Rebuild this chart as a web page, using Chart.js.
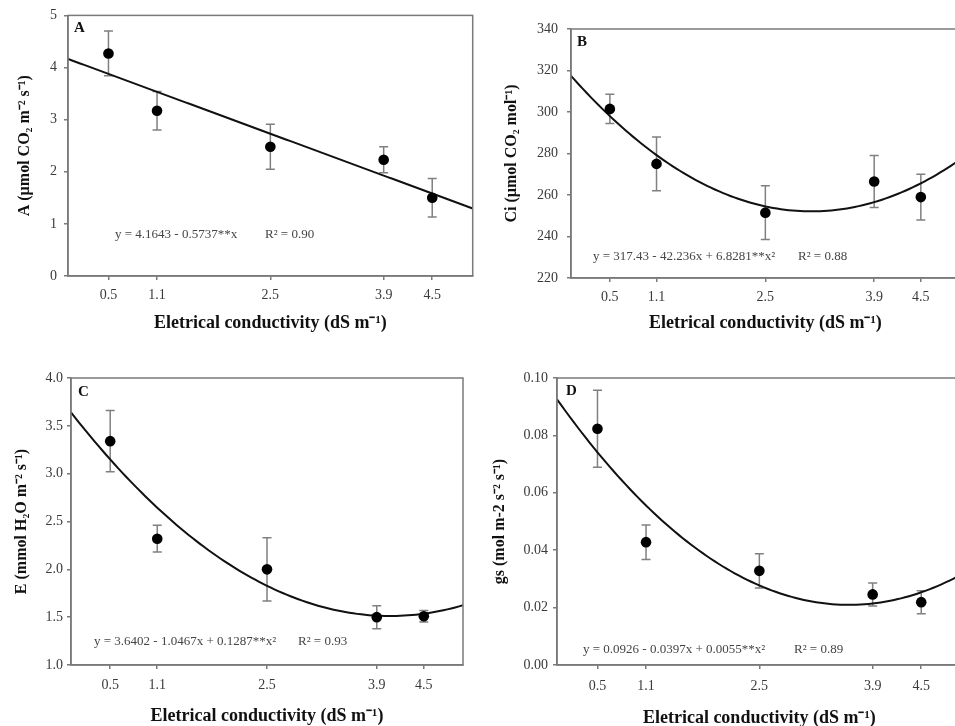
<!DOCTYPE html>
<html>
<head>
<meta charset="utf-8">
<title>Gas exchange vs electrical conductivity</title>
<script src="https://cdn.jsdelivr.net/npm/chart.js@4.4.1/dist/chart.umd.min.js"></script>
<style>
  html, body { margin: 0; padding: 0; background: #fff; width: 955px; height: 726px; overflow: hidden; }
  canvas { position: absolute; }
</style>
</head>
<body>
<canvas id="panelA" width="478" height="363" style="left:0;top:0"></canvas>
<canvas id="panelB" width="487" height="363" style="left:478px;top:0"></canvas>
<canvas id="panelC" width="478" height="363" style="left:0;top:363px"></canvas>
<canvas id="panelD" width="489" height="363" style="left:478px;top:363px"></canvas>
<script>
// electrical conductivity levels (dS m-1)
const ecLevels = [0.5, 1.1, 2.5, 3.9, 4.5];
const ecTickLabels = ['0.5', '1.1', '2.5', '3.9', '4.5'];

// A - net photosynthesis
const photoMean = [4.27, 3.17, 2.48, 2.23, 1.50];
const photoErr = [0.43, 0.37, 0.43, 0.25, 0.37];
const photoFit = [4.1643, -0.5737];

// B - internal CO2 concentration
const ciMean = [301.5, 275, 251.5, 266.5, 259];
const ciErr = [7, 13, 13, 12.5, 11];
const ciFit = [317.43, -42.236, 6.8281];

// C - transpiration
const transpMean = [3.34, 2.32, 2.00, 1.50, 1.51];
const transpErr = [0.32, 0.14, 0.33, 0.12, 0.06];
const transpFit = [3.6402, -1.0467, 0.1287];

// D - stomatal conductance
const gsMean = [0.0823, 0.0428, 0.0328, 0.0246, 0.0219];
const gsErr = [0.0134, 0.006, 0.006, 0.004, 0.004];
const gsFit = [0.0926, -0.0397, 0.0055];

const serif = "'Liberation Serif', 'Times New Roman', serif";
const axisGray = '#7a7a7a';
Chart.defaults.font.family = serif;

// points along the printed regression equation
function fitCurve(coef) {
  const pts = [];
  for (let i = 0; i <= 100; i++) {
    const x = i * 0.05;
    let y = 0;
    coef.forEach((c, k) => { y += c * Math.pow(x, k); });
    pts.push({ x: x, y: y });
  }
  return pts;
}

const errorBars = {
  id: 'errorBars',
  beforeDatasetsDraw(chart) {
    const ds = chart.data.datasets[0];
    if (!ds.errors) return;
    const { ctx, scales: { x, y } } = chart;
    ctx.save();
    ctx.strokeStyle = '#808080';
    ctx.lineWidth = 1.5;
    ds.data.forEach((p, i) => {
      const px = x.getPixelForValue(p.x);
      const top = y.getPixelForValue(p.y + ds.errors[i]);
      const bot = y.getPixelForValue(p.y - ds.errors[i]);
      ctx.beginPath();
      ctx.moveTo(px, top); ctx.lineTo(px, bot);
      ctx.moveTo(px - 4.5, top); ctx.lineTo(px + 4.5, top);
      ctx.moveTo(px - 4.5, bot); ctx.lineTo(px + 4.5, bot);
      ctx.stroke();
    });
    ctx.restore();
  }
};

const frameAndText = {
  id: 'frameAndText',
  afterDraw(chart, args, opts) {
    const { ctx, chartArea: a } = chart;
    ctx.save();
    ctx.strokeStyle = axisGray;
    ctx.lineWidth = 1.5;
    ctx.strokeRect(a.left, a.top, a.right - a.left, a.bottom - a.top);
    ctx.fillStyle = '#111';
    ctx.textBaseline = 'middle';
    ctx.font = 'bold 15px ' + serif;
    ctx.fillText(opts.letter, a.left + opts.letterPos[0], a.top + opts.letterPos[1]);
    ctx.fillStyle = '#444';
    ctx.font = '13px ' + serif;
    ctx.fillText(opts.equation, a.left + opts.eqPos[0], a.bottom - opts.eqPos[1]);
    ctx.fillText(opts.r2, a.left + opts.r2Pos, a.bottom - opts.eqPos[1]);
    ctx.restore();
  }
};

function makePanel(id, p) {
  const points = ecLevels.map((x, i) => ({ x: x, y: p.mean[i] }));
  new Chart(document.getElementById(id), {
    type: 'scatter',
    data: {
      datasets: [
        {
          data: points,
          errors: p.err,
          pointRadius: 5.3,
          pointBackgroundColor: '#000',
          pointBorderWidth: 0
        },
        {
          data: fitCurve(p.fit),
          showLine: true,
          borderColor: '#111',
          borderWidth: 2,
          pointRadius: 0
        }
      ]
    },
    options: {
      responsive: false,
      animation: false,
      events: [],
      layout: { padding: p.padding },
      plugins: {
        legend: { display: false },
        tooltip: { enabled: false },
        frameAndText: {
          letter: p.letter, letterPos: p.letterPos,
          equation: p.equation, r2: p.r2, eqPos: p.eqPos, r2Pos: p.r2Pos
        }
      },
      scales: {
        x: {
          type: 'linear',
          min: 0,
          max: 5,
          afterBuildTicks: s => { s.ticks = ecLevels.map(v => ({ value: v })); },
          afterFit: s => { s.height = p.xHeight; },
          ticks: {
            autoSkip: false,
            maxRotation: 0,
            padding: p.xTickPad,
            color: '#3a3a3a',
            font: { size: 14 },
            callback: v => ecTickLabels[ecLevels.indexOf(v)]
          },
          grid: { drawOnChartArea: false, tickLength: 4, color: axisGray, lineWidth: 1.5 },
          border: { color: axisGray, width: 1.5 },
          title: {
            display: true,
            text: 'Eletrical conductivity (dS m\u207B\u00B9)',
            color: '#111',
            font: { size: 18, weight: 'bold' },
            padding: { top: 0, bottom: p.xTitlePad }
          }
        },
        y: {
          min: p.yMin,
          max: p.yMax,
          afterFit: s => { s.width = p.yWidth; },
          ticks: {
            stepSize: p.yStep,
            padding: p.yTickPad,
            color: '#3a3a3a',
            font: { size: 14 },
            callback: v => v.toFixed(p.decimals)
          },
          grid: { drawOnChartArea: false, tickLength: 4, color: axisGray, lineWidth: 1.5 },
          border: { color: axisGray, width: 1.5 },
          title: {
            display: true,
            text: p.yTitle,
            color: '#111',
            font: { size: 16, weight: 'bold' },
            padding: { top: p.yTitlePad, bottom: 0 }
          }
        }
      }
    },
    plugins: [errorBars, frameAndText]
  });
}

makePanel('panelA', {
  mean: photoMean, err: photoErr, fit: photoFit,
  yMin: 0, yMax: 5, yStep: 1, decimals: 0,
  yTitle: 'A (\u00B5mol CO\u2082 m\u207B\u00B2 s\u207B\u00B9)',
  letter: 'A', letterPos: [6, 13],
  equation: 'y = 4.1643 - 0.5737**x', r2: 'R\u00B2 = 0.90', eqPos: [47, 41], r2Pos: 197,
  padding: { left: 0, top: 14, right: 4, bottom: 0 },
  yWidth: 68, xHeight: 87, xTickPad: 7, yTickPad: 7, xTitlePad: 29, yTitlePad: 15
});

makePanel('panelB', {
  mean: ciMean, err: ciErr, fit: ciFit,
  yMin: 220, yMax: 340, yStep: 20, decimals: 0,
  yTitle: 'Ci (\u00B5mol CO\u2082 mol\u207B\u00B9)',
  letter: 'B', letterPos: [6, 13],
  equation: 'y = 317.43 - 42.236x + 6.8281**x\u00B2', r2: 'R\u00B2 = 0.88', eqPos: [22, 21], r2Pos: 227,
  padding: { left: 0, top: 29, right: 4, bottom: 0 },
  yWidth: 93, xHeight: 85, xTickPad: 7, yTickPad: 9, xTitlePad: 29, yTitlePad: 24
});

makePanel('panelC', {
  mean: transpMean, err: transpErr, fit: transpFit,
  yMin: 1, yMax: 4, yStep: 0.5, decimals: 1,
  yTitle: 'E (mmol H\u2082O m\u207B\u00B2 s\u207B\u00B9)',
  letter: 'C', letterPos: [7, 14],
  equation: 'y = 3.6402 - 1.0467x + 0.1287**x\u00B2', r2: 'R\u00B2 = 0.93', eqPos: [23, 23], r2Pos: 227,
  padding: { left: 0, top: 15, right: 15, bottom: 0 },
  yWidth: 71, xHeight: 61, xTickPad: 8, yTickPad: 4, xTitlePad: -1, yTitlePad: 12
});

makePanel('panelD', {
  mean: gsMean, err: gsErr, fit: gsFit,
  yMin: 0, yMax: 0.1, yStep: 0.02, decimals: 2,
  yTitle: 'gs (mol m-2 s\u207B\u00B2 s\u207B\u00B9)',
  letter: 'D', letterPos: [9, 13],
  equation: 'y = 0.0926 - 0.0397x + 0.0055**x\u00B2', r2: 'R\u00B2 = 0.89', eqPos: [26, 15], r2Pos: 237,
  padding: { left: 0, top: 15, right: 4, bottom: 0 },
  yWidth: 79, xHeight: 61, xTickPad: 9, yTickPad: 5, xTitlePad: -3, yTitlePad: 12
});
</script>
</body>
</html>
